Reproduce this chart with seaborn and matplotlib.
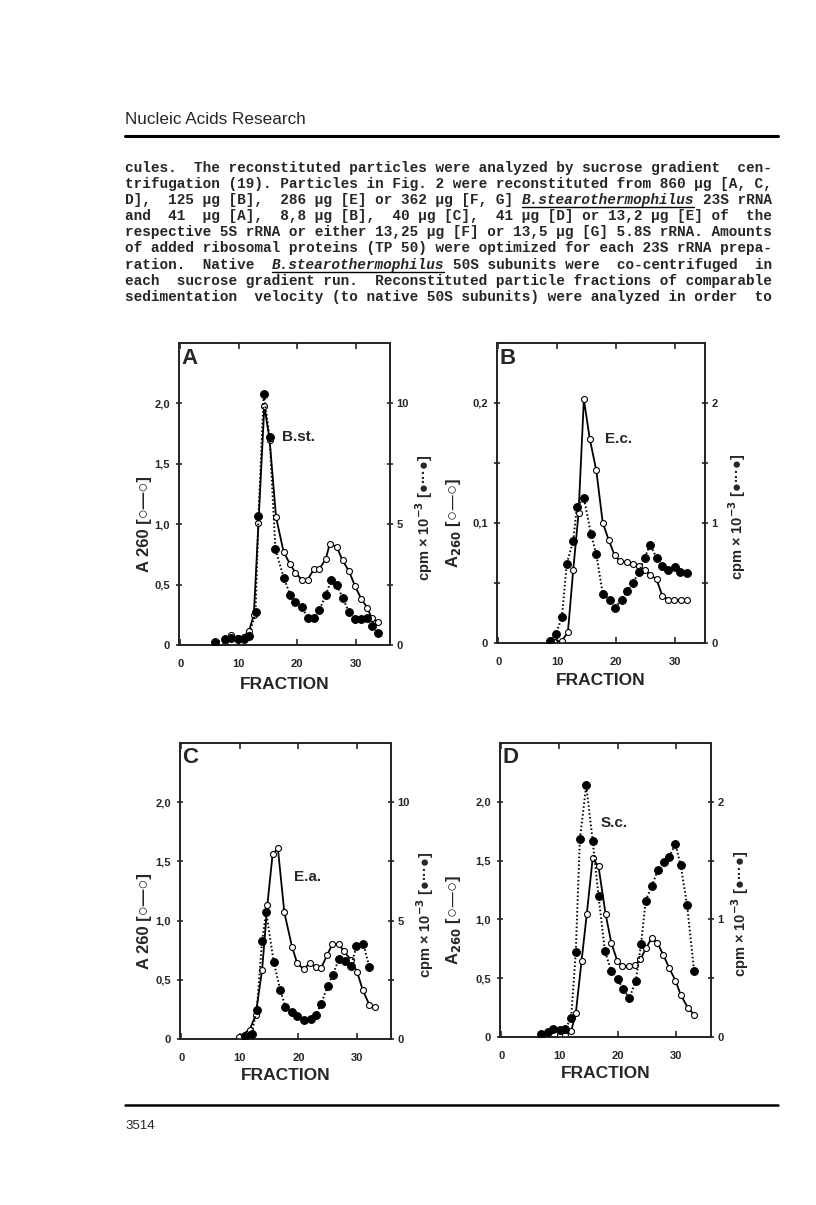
import matplotlib
matplotlib.use("Agg")
import matplotlib.pyplot as plt
import seaborn as sns
from matplotlib.lines import Line2D
from matplotlib.ticker import FixedLocator, FuncFormatter

# ---- page text ----
header = "Nucleic Acids Research"
page_no = "3514"
para_lines = [
    "cules.  The reconstituted particles were analyzed by sucrose gradient  cen-",
    "trifugation (19). Particles in Fig. 2 were reconstituted from 860 µg [A, C,",
    "D],  125 µg [B],  286 µg [E] or 362 µg [F, G] B.stearothermophilus 23S rRNA",
    "and  41  µg [A],  8,8 µg [B],  40 µg [C],  41 µg [D] or 13,2 µg [E] of  the",
    "respective 5S rRNA or either 13,25 µg [F] or 13,5 µg [G] 5.8S rRNA. Amounts",
    "of added ribosomal proteins (TP 50) were optimized for each 23S rRNA prepa-",
    "ration.  Native  B.stearothermophilus 50S subunits were  co-centrifuged  in",
    "each  sucrose gradient run.  Reconstituted particle fractions of comparable",
    "sedimentation  velocity (to native 50S subunits) were analyzed in order  to",
]
italic_word = "B.stearothermophilus"

# ---- panel A : B.st. ----
a_frac_a260 = [7.7, 8.7, 9.9, 10.9, 11.8, 12.6, 13.4, 14.4, 15.3, 16.4, 17.7, 18.8, 19.7, 20.8,
               21.8, 22.9, 23.8, 24.9, 25.6, 26.8, 27.8, 28.9, 29.9, 31.0, 32.0, 32.8, 33.9]
a_a260 = [0.03, 0.08, 0.06, 0.07, 0.12, 0.25, 1.01, 1.98, 1.70, 1.06, 0.77, 0.67, 0.60, 0.54,
          0.54, 0.63, 0.63, 0.71, 0.84, 0.81, 0.70, 0.61, 0.49, 0.38, 0.31, 0.22, 0.19]
a_frac_cpm = [5.9, 7.7, 8.7, 9.9, 10.9, 11.8, 12.9, 13.4, 14.3, 15.3, 16.3, 17.7, 18.8, 19.7,
              20.8, 21.8, 22.9, 23.8, 24.9, 25.8, 26.8, 27.8, 28.9, 29.9, 31.0, 32.0, 32.8, 33.9]
a_cpm = [0.11, 0.23, 0.30, 0.23, 0.23, 0.39, 1.38, 5.36, 10.39, 8.60, 3.96, 2.79, 2.09, 1.76,
         1.58, 1.13, 1.13, 1.44, 2.05, 2.67, 2.48, 1.95, 1.35, 1.07, 1.07, 1.13, 0.80, 0.48]

# ---- panel B : E.c. ----
b_frac_a260 = [9.5, 10.8, 11.8, 12.7, 13.6, 14.5, 15.5, 16.6, 17.7, 18.7, 19.7, 20.7, 21.8,
               22.8, 23.8, 24.8, 25.7, 26.8, 27.8, 28.8, 29.8, 30.9, 32.0]
b_a260 = [0.001, 0.002, 0.009, 0.061, 0.108, 0.203, 0.170, 0.144, 0.100, 0.086, 0.073, 0.068,
          0.0675, 0.0656, 0.064, 0.0606, 0.057, 0.053, 0.039, 0.036, 0.036, 0.0356, 0.0356]
b_frac_cpm = [8.7, 9.8, 10.8, 11.6, 12.7, 13.3, 14.5, 15.7, 16.6, 17.7, 18.9, 19.7, 20.9, 21.8,
              22.8, 23.8, 24.8, 25.7, 26.8, 27.7, 28.8, 29.9, 30.8, 32.0]
b_cpm = [0.014, 0.078, 0.22, 0.66, 0.85, 1.13, 1.21, 0.91, 0.74, 0.41, 0.36, 0.29, 0.36, 0.43,
         0.50, 0.59, 0.71, 0.82, 0.71, 0.64, 0.61, 0.63, 0.59, 0.58]

# ---- panel C : E.a. ----
c_frac_a260 = [9.9, 11.7, 12.7, 13.8, 14.7, 15.6, 16.5, 17.6, 18.9, 19.8, 20.9, 21.9, 23.0,
               23.9, 24.9, 25.8, 26.9, 27.8, 28.9, 30.0, 31.0, 32.1, 33.0]
c_a260 = [0.02, 0.08, 0.20, 0.58, 1.13, 1.56, 1.61, 1.07, 0.78, 0.64, 0.59, 0.64, 0.61,
          0.60, 0.71, 0.80, 0.80, 0.74, 0.67, 0.57, 0.41, 0.29, 0.27]
c_frac_cpm = [10.9, 12.0, 12.9, 13.8, 14.5, 15.8, 16.9, 17.8, 18.9, 19.8, 20.9, 22.1, 23.0,
              23.9, 25.0, 25.9, 26.9, 28.0, 29.0, 29.9, 31.1, 32.1]
c_cpm = [0.14, 0.21, 1.24, 4.13, 5.35, 3.24, 2.08, 1.34, 1.13, 0.96, 0.82, 0.86, 1.03,
         1.49, 2.25, 2.72, 3.38, 3.28, 3.10, 3.92, 4.01, 3.04]

# ---- panel D : S.c. ----
d_frac_a260 = [10.1, 11.0, 12.0, 12.8, 13.8, 14.7, 15.7, 16.7, 17.9, 18.9, 19.9, 20.8, 21.9,
               22.9, 23.9, 24.9, 25.8, 26.8, 27.8, 28.8, 29.9, 30.8, 32.0, 33.1]
d_a260 = [0.014, 0.02, 0.05, 0.20, 0.65, 1.05, 1.52, 1.45, 1.05, 0.80, 0.65, 0.60, 0.60,
          0.61, 0.66, 0.76, 0.84, 0.80, 0.70, 0.59, 0.48, 0.36, 0.25, 0.19]
d_frac_cpm = [6.8, 8.0, 8.9, 10.1, 11.0, 12.0, 12.8, 13.5, 14.6, 15.7, 16.7, 17.8, 18.9, 20.0,
              20.9, 22.0, 23.1, 24.0, 24.8, 25.8, 26.9, 27.9, 28.8, 29.9, 30.8, 31.9, 33.1]
d_cpm = [0.025, 0.04, 0.07, 0.06, 0.07, 0.16, 0.72, 1.68, 2.14, 1.67, 1.20, 0.73, 0.56, 0.49,
         0.41, 0.33, 0.48, 0.79, 1.16, 1.28, 1.42, 1.49, 1.53, 1.64, 1.46, 1.12, 0.56]

letters = ["A", "B", "C", "D"]
species = ["B.st.", "E.c.", "E.a.", "S.c."]
species_pos = [(17.5, 1.72), (18.0, 0.170), (19.3, 1.37), (17.0, 1.82)]

# tick values (left axis = A260, right axis = cpm x 10^-3)
left_ticks = [[0, 0.5, 1.0, 1.5, 2.0], [0, 0.1, 0.2], [0, 0.5, 1.0, 1.5, 2.0], [0, 0.5, 1.0, 1.5, 2.0]]
left_minor = [[], [0.05, 0.15], [], []]
right_ticks = [[0, 5, 10], [0, 1, 2], [0, 5, 10], [0, 1, 2]]
right_minor = [[2.5, 7.5], [0.5, 1.5], [2.5, 7.5], [0.5, 1.5]]

sns.set_theme(style="ticks")
plt.rcParams['font.family'] = ['Liberation Sans', 'DejaVu Sans']
plt.rcParams['font.weight'] = 'bold'
plt.rcParams['axes.linewidth'] = 1.3

W, H = 816, 1205
fig = plt.figure(figsize=(W / 100, H / 100), dpi=100)
fig.patch.set_facecolor('white')
renderer = fig.canvas.get_renderer()

# page header / footer
fig.text(125 / W, 1 - 119 / H, header, fontsize=12.3, fontweight='normal', va='center', ha='left')
fig.add_artist(Line2D([125 / W, 778 / W], [1 - 136 / H] * 2, lw=2.2, color='black'))
fig.add_artist(Line2D([125 / W, 778 / W], [1 - 1105 / H] * 2, lw=1.8, color='black'))
fig.text(125 / W, 1 - 1126 / H, page_no, fontsize=9.5, fontweight='normal', va='center', ha='left')

# typewritten paragraph (monospace): pick the size that spans x = 125..770
mono = ['Liberation Mono', 'DejaVu Sans Mono']
target_w = 645
best = None
for fs in [10.0, 10.1, 10.2, 10.3, 10.4, 10.5, 10.6]:
    t = fig.text(0, 0, para_lines[0], family=mono, fontsize=fs, fontweight='bold')
    w_px = t.get_window_extent(renderer).width
    t.remove()
    if best is None or abs(w_px - target_w) < abs(best[1] - target_w):
        best = (fs, w_px)
fs_mono, line_w = best
char_w = line_w / len(para_lines[0]) / W

for i, line in enumerate(para_lines):
    y = 1 - (168 + i * 16.1) / H
    k = line.find(italic_word)
    if k < 0:
        fig.text(125 / W, y, line, family=mono, fontsize=fs_mono, fontweight='bold',
                 va='center', ha='left')
        continue
    pre, post = line[:k].rstrip(), line[k + len(italic_word):].lstrip()
    k2 = len(line) - len(post)
    fig.text(125 / W, y, pre, family=mono, fontsize=fs_mono, fontweight='bold', va='center', ha='left')
    x0 = 125 / W + k * char_w
    fig.text(x0, y, italic_word, family=mono, fontsize=fs_mono, fontweight='bold',
             style='italic', va='center', ha='left')
    fig.add_artist(Line2D([x0, x0 + len(italic_word) * char_w], [y - 7 / H] * 2,
                          lw=1.0, color='black'))
    fig.text(125 / W + k2 * char_w, y, post, family=mono, fontsize=fs_mono, fontweight='bold',
             va='center', ha='left')

# axes rectangles in figure pixels: left, bottom (from top), width, height
rects = [(179, 645, 211, 302), (497, 643, 208, 300), (180, 1039, 211, 296), (500, 1037, 211, 294)]
a260_data = [(a_frac_a260, a_a260), (b_frac_a260, b_a260), (c_frac_a260, c_a260), (d_frac_a260, d_a260)]
cpm_data = [(a_frac_cpm, a_cpm), (b_frac_cpm, b_cpm), (c_frac_cpm, c_cpm), (d_frac_cpm, d_cpm)]
left_max = [2.5, 0.25, 2.5, 2.5]
right_max = [12.5, 2.5, 12.5, 2.5]
xmax = [35.9, 35.0, 35.8, 36.0]
left_lab = ["A 260 [○—○]", r"A$_{\mathbf{260}}$ [○—○]", "A 260 [○—○]", r"A$_{\mathbf{260}}$ [○—○]"]
left_lab_x = [-0.13, -0.165, -0.135, -0.175]
right_lab_x = [1.11, 1.10, 1.11, 1.085]
xlab_y = [-0.106, -0.10, -0.098, -0.099]


def comma_fmt(v, pos):
    return "0" if abs(v) < 1e-9 else f"{v:.1f}".replace(".", ",")


for i in range(4):
    l, b, w, h = rects[i]
    ax = fig.add_axes([l / W, 1 - b / H, w / W, h / H])
    ax2 = ax.twinx()

    xs, ys = a260_data[i]
    sns.lineplot(x=xs, y=ys, ax=ax, color='black', lw=1.3, sort=False, estimator=None,
                 marker='o', markersize=4.3, markerfacecolor='white',
                 markeredgecolor='black', markeredgewidth=0.8, zorder=3)
    xs, ys = cpm_data[i]
    sns.lineplot(x=xs, y=ys, ax=ax2, color='black', lw=1.4, sort=False, estimator=None,
                 linestyle=(0, (0.8, 1.2)), marker='o', markersize=5.6,
                 markerfacecolor='black', markeredgecolor='black', zorder=4)

    ax.set_xlim(-0.2, xmax[i])
    ax.set_ylim(0, left_max[i])
    ax2.set_ylim(0, right_max[i])

    ax.xaxis.set_major_locator(FixedLocator([0, 10, 20, 30]))
    ax.yaxis.set_major_locator(FixedLocator(left_ticks[i]))
    ax.yaxis.set_minor_locator(FixedLocator(left_minor[i]))
    ax2.yaxis.set_major_locator(FixedLocator(right_ticks[i]))
    ax2.yaxis.set_minor_locator(FixedLocator(right_minor[i]))
    ax.yaxis.set_major_formatter(FuncFormatter(comma_fmt))
    ax2.yaxis.set_major_formatter(FuncFormatter(lambda v, p: f"{v:g}"))

    ax.tick_params(axis='x', which='both', direction='in', top=True, bottom=True, length=4,
                   width=1.2, pad=10, labelsize=8)
    ax.tick_params(axis='y', which='both', direction='inout', length=5, width=1.2, pad=4,
                   labelsize=8, right=False)
    ax2.tick_params(axis='y', which='both', direction='inout', length=5, width=1.2, pad=2,
                    labelsize=8)
    for lab in ax.get_xticklabels() + ax.get_yticklabels() + ax2.get_yticklabels():
        lab.set_fontweight('bold')
    for sp in list(ax.spines.values()) + list(ax2.spines.values()):
        sp.set_linewidth(1.3)
        sp.set_visible(True)

    ax.set_xlabel("FRACTION", fontsize=12.5, fontweight='bold')
    ax.xaxis.set_label_coords(0.5, xlab_y[i])
    ax.set_ylabel(left_lab[i], fontsize=12, fontweight='bold')
    ax.yaxis.set_label_coords(left_lab_x[i], 0.40)
    ax2.set_ylabel("cpm × 10$^{\\mathbf{-3}}$ [●···●]", fontsize=10.5, fontweight='bold')
    ax2.yaxis.set_label_coords(right_lab_x[i], 0.42)

    ax.text(0.012, 0.985, letters[i], transform=ax.transAxes, fontsize=16, fontweight='heavy',
            ha='left', va='top')
    sx, sy = species_pos[i]
    ax.text(sx, sy, species[i], fontsize=11, fontweight='bold', ha='left', va='center')

fig.savefig("out.png", dpi=100, facecolor='white')
